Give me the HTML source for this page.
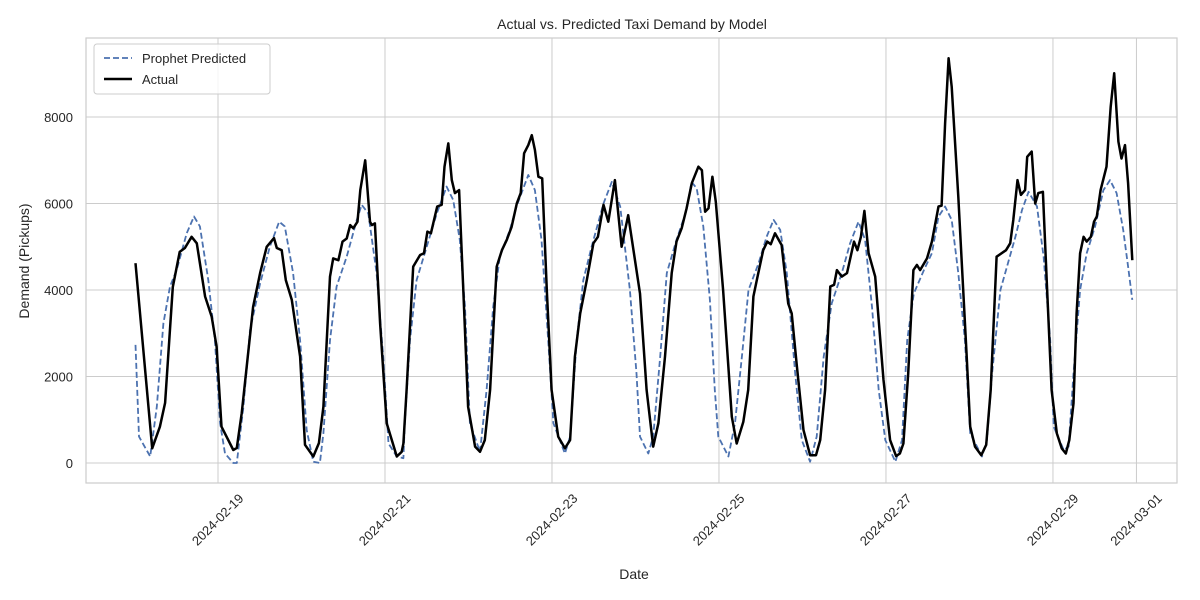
<!DOCTYPE html>
<html><head><meta charset="utf-8"><style>
body{margin:0;background:#fff;}
svg{display:block;font-family:"Liberation Sans","DejaVu Sans",sans-serif;}
</style></head><body>
<svg id="chart" width="1200" height="600" viewBox="0 0 1200 600">
<rect width="1200" height="600" fill="#fff"/>
<g id="grid"></g>
<rect x="86" y="38" width="1091" height="445" fill="none" stroke="#cccccc" stroke-width="1.2"/>
<g id="series"></g>
<g id="ticks"></g>
<text x="632" y="29" text-anchor="middle" font-size="14" fill="#262626">Actual vs. Predicted Taxi Demand by Model</text>
<text x="634" y="579" text-anchor="middle" font-size="14" fill="#262626">Date</text>
<text transform="translate(29,261) rotate(-90)" text-anchor="middle" font-size="14" fill="#262626">Demand (Pickups)</text>
<g>
<rect x="94" y="44" width="176" height="50" rx="3" fill="#fff" fill-opacity="0.8" stroke="#cccccc"/>
<line x1="104" y1="58" x2="132" y2="58" stroke="#4c72b0" stroke-width="1.8" stroke-dasharray="6,3"/>
<text x="142" y="63" font-size="13" fill="#262626">Prophet Predicted</text>
<line x1="104" y1="79" x2="132" y2="79" stroke="#000" stroke-width="2.5"/>
<text x="142" y="84" font-size="13" fill="#262626">Actual</text>
</g>
</svg>
<script>
// hours since 2024-02-18 00:00
const actualHours=[0.3,5.1,7.3,8.8,11,13,14.5,16.4,17.9,20.3,22.2,23.6,25,28.4,29.4,30.8,34.1,36.1,38,40.1,40.9,42.3,43.5,45.2,47.6,49,51.4,53,54.3,56.2,57.1,58.6,59.8,61,62,62.9,64.1,64.9,66.3,67.7,68.2,69.1,70.6,72.5,75.4,76.8,77.3,78.2,80.1,82.1,83.2,84.2,85.2,87,88.3,89.1,90.2,91.2,92.1,93.3,94.5,95.9,97.9,99.3,100.7,102.2,104.1,105.6,107,108.4,109.9,111,112,113.2,114.2,115.1,116.1,117.2,118.5,119.9,121.8,123.7,125.2,126.6,128.1,130,131.9,133.2,134.8,136.2,138.1,140,141.9,145.3,147.2,149.1,150.6,152.5,154.4,155.8,157.3,158.7,160.2,162.1,163.1,164,165,166.1,167.1,169.2,171.7,173.1,175,176.4,177.9,179,180.7,181.9,182.9,184.1,186,187.9,188.9,190.3,192.3,194.2,195.9,197.1,198.5,200,201.1,201.9,203.3,204.8,206.8,207.8,208.8,209.8,211,212.9,215.3,217.2,218.9,220,221,222.4,223.9,224.9,225.8,227.8,229.2,231.1,232,233,234,234.9,236.8,239.2,240.2,241.6,243.4,244.8,246.1,247.8,250.5,251.7,252.6,253.8,254.8,256,256.6,257.9,258.9,259.8,261.1,262.2,263.6,265.1,266.5,267.7,268.7,269.9,270.8,271.8,272.8,273.7,274.9,275.8,276.6,277.7,279.4,280.6,281.6,282.8,283.7,284.7,285.6,286.8];
const actualValues=[4620,340,840,1390,4070,4880,4970,5230,5080,3850,3380,2690,840,300,350,1150,3610,4390,5000,5200,4970,4920,4230,3770,2460,420,150,460,1300,4310,4730,4690,5120,5190,5500,5430,5580,6310,7000,5580,5500,5540,3230,920,150,260,450,1690,4540,4810,4850,5350,5310,5930,5970,6850,7390,6540,6240,6310,4000,1300,380,260,530,1690,4540,4920,5160,5460,6000,6240,7160,7350,7580,7240,6620,6580,4000,1690,610,340,530,2460,3460,4230,5080,5230,5970,5580,6540,5000,5730,3920,1690,380,920,2460,4390,5120,5430,5890,6470,6850,6770,5810,5890,6620,6040,4000,1070,450,950,1690,3850,4270,4920,5120,5060,5310,5040,3690,3460,2300,760,180,180,530,1690,4080,4120,4460,4310,4390,5120,4920,5230,5830,4850,4310,1920,530,160,220,450,2070,4460,4580,4460,4730,5120,5930,5950,7850,9360,8700,6160,2460,840,380,180,420,1690,4770,4920,5080,5620,6540,6200,6310,7080,7200,6000,6240,6270,4230,1690,690,340,220,530,1380,3460,4850,5230,5120,5230,5580,5700,6310,6850,8240,9010,7430,7040,7350,6470,4690];
const predHours=[0.3,1.3,4.5,6.4,8.3,10.2,12.1,15,17.1,18.8,21.2,23.1,24.6,26,28.4,29.4,31.3,33.2,36.1,38.9,41.6,43.2,45.6,47.6,49.5,51.4,53.3,54.3,56.2,58.1,61,63.9,65.3,67.2,69.6,71.5,73,75.4,77.3,77.7,79.2,81.1,84,86.9,89.7,91.6,93.5,95,96.4,99.3,101.2,103.1,105,107.9,109.8,113.2,115.1,117,118.9,120.4,123.7,125.2,127.1,129,131.4,134.8,137.2,139.6,142.4,144.3,145.3,147.7,149.1,151.1,153,155.8,158.7,160.1,161.6,163.5,165.4,166.8,167.8,170.7,172.6,174.6,176.5,179.4,181.7,183.7,185.6,187.5,189.9,191.8,194.2,196.1,198.1,200.4,203.3,205.7,208.1,210,212,213.9,215.8,218.7,220.6,222.1,224,226.9,229.2,231.1,233,234.9,236.8,238.7,240.2,243.6,245,246.5,248.9,250.8,253.2,255.1,257,259.4,261.3,263.2,264.2,267.1,268.5,269.9,271.8,273.7,276.1,278.5,280.4,282.3,284.2,285.6,286.8];
const predValues=[2730,610,150,1300,3230,4080,4460,5310,5700,5470,4230,2840,920,220,0,0,1300,3070,4150,5000,5580,5470,4390,2840,760,30,0,690,2840,4080,4770,5620,5970,5770,4390,2460,450,150,110,920,2840,4230,5000,5770,6390,6080,5160,3610,920,260,1690,3610,4770,5390,5930,6660,6310,5160,2840,920,220,610,2840,4230,5000,6000,6500,5930,4000,2070,610,220,610,2460,4390,5160,5850,6500,6350,5470,3770,1690,610,150,920,2460,4000,4620,5230,5620,5390,4390,2070,530,30,610,2460,3690,4390,5080,5580,5160,3610,1690,530,30,530,2840,3920,4460,4850,5700,5930,5620,4390,2840,690,150,530,2070,4000,4540,5230,5850,6270,5930,4770,2840,840,300,380,2070,4000,4850,5470,6310,6540,6240,5390,4540,3770];
const yTicks=[0,2000,4000,6000,8000];
const xTickHours=[24,72,120,168,216,264,288];
const xTickLabels=["2024-02-19","2024-02-21","2024-02-23","2024-02-25","2024-02-27","2024-02-29","2024-03-01"];

const NS="http://www.w3.org/2000/svg";
const X0=134.5, PXH=3.479;
function xScale(h){return X0+h*PXH;}
function yScale(v){return 463-v*(86.5/2000);}
function mk(tag,attrs,parent){const e=document.createElementNS(NS,tag);for(const k in attrs)e.setAttribute(k,attrs[k]);parent.appendChild(e);return e;}
const grid=document.getElementById('grid'), ticks=document.getElementById('ticks'), series=document.getElementById('series');
yTicks.forEach(v=>{
  const y=yScale(v);
  const g=mk('line',{x1:86,x2:1177,y1:y,y2:y,stroke:'#cccccc','stroke-width':1},grid);
  
  
  const t=mk('text',{x:73,y:y+5,'text-anchor':'end','font-size':13,fill:'#262626'},ticks);
  t.textContent=String(v);
  
  
});
xTickHours.forEach((h,i)=>{
  const x=xScale(h);
  const g=mk('line',{x1:x,x2:x,y1:38,y2:483,stroke:'#cccccc','stroke-width':1},grid);
  
  
  const t=mk('text',{transform:`translate(${x},${520}) rotate(-45)`,'text-anchor':'middle',y:4,'font-size':13,fill:'#262626'},ticks);
  t.textContent=xTickLabels[i];
  
  
});
function pts(hs,vs){return hs.map((h,i)=>xScale(h).toFixed(1)+','+yScale(vs[i]).toFixed(1)).join(' ');}
const pl=mk('polyline',{points:pts(predHours,predValues),fill:'none',stroke:'#4c72b0','stroke-width':1.8,'stroke-dasharray':'6,3','stroke-linejoin':'round'},series);


const al=mk('polyline',{points:pts(actualHours,actualValues),fill:'none',stroke:'#000','stroke-width':2.5,'stroke-linejoin':'round'},series);


</script>
</body></html>
